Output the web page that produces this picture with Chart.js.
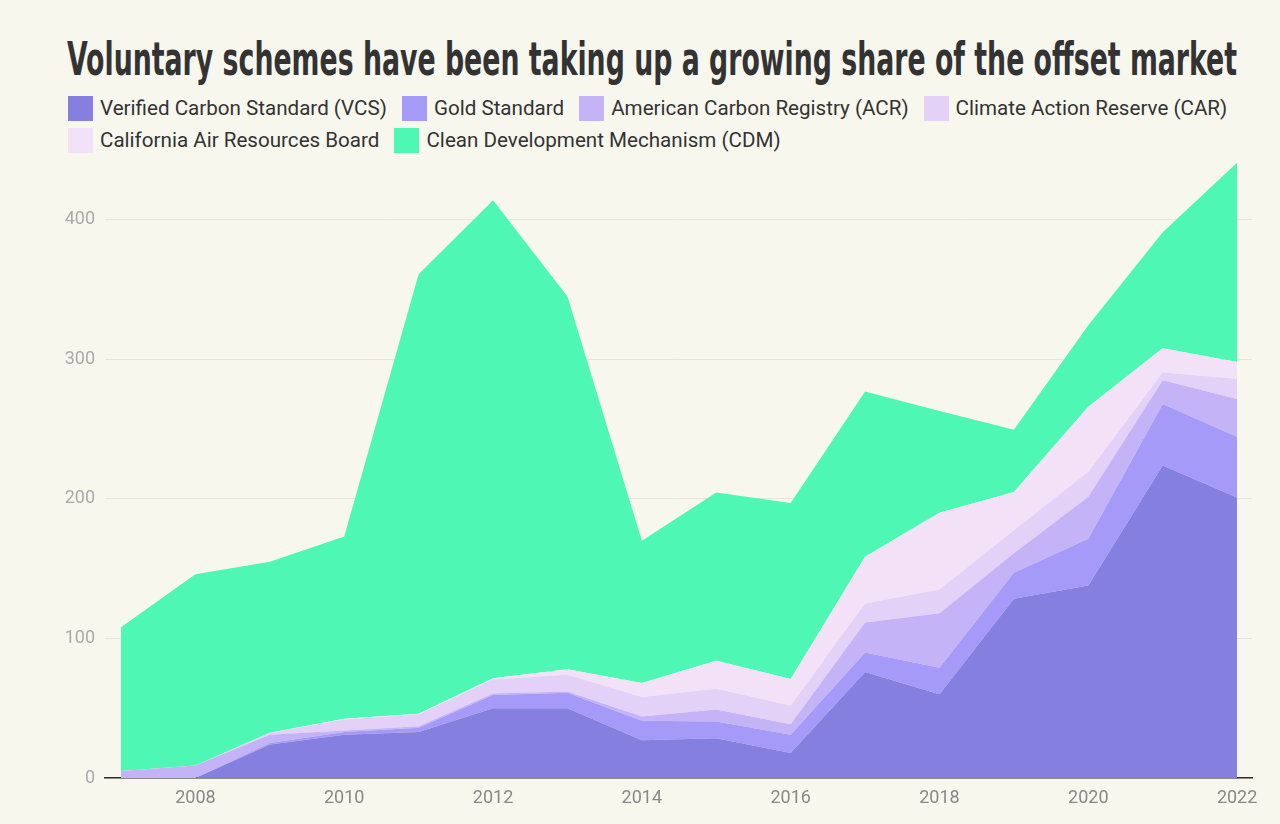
<!DOCTYPE html>
<html>
<head>
<meta charset="utf-8">
<script src="https://cdn.jsdelivr.net/npm/chart.js@4.4.1/dist/chart.umd.min.js"></script>
<style>
  html, body { margin: 0; padding: 0; background: #f8f7ee; }
  #wrap { position: relative; width: 1280px; height: 824px; overflow: hidden; }
  #title {
    position: absolute; left: 67px; top: 36px; white-space: nowrap;
    font-family: "Liberation Sans Narrow", "DejaVu Sans Condensed", sans-serif;
    font-weight: 700; font-size: 46px; line-height: 1; color: #333;
    transform-origin: left top;
  }
  #legend {
    position: absolute; left: 68px; top: 92px; width: 1210px;
    font-family: Roboto, sans-serif; font-size: 20.6px; color: #333;
  }
  .row { display: flex; height: 32px; align-items: center; }
  .item { display: flex; align-items: center; margin-right: 15px; }
  .box { width: 25px; height: 25px; margin-right: 7px; }
  canvas { position: absolute; left: 0; top: 0; }
</style>
</head>
<body>
<div id="wrap">
  <div id="title">Voluntary schemes have been taking up a growing share of the offset market</div>
  <div id="legend"></div>
  <canvas id="areaChart" width="1280" height="824"></canvas>
</div>
<script>
/* eslint-disable no-undef */
// datos (millones de creditos por año)
const years = [2007, 2008, 2009, 2010, 2011, 2012, 2013, 2014, 2015, 2016, 2017, 2018, 2019, 2020, 2021, 2022]
const vcs = [0, 0, 24, 31, 33, 50, 50, 27, 28.5, 18, 76, 60, 128.5, 138, 224, 201]
const gold = [0, 0, 1, 2, 3, 9.5, 11, 14, 12, 13, 14, 19, 18.5, 33.5, 44, 43.5]
const acr = [5, 9, 6, 1, 1, 1, 1, 3, 8.5, 7.5, 21.5, 39, 14, 30, 17, 27]
const car = [0, 0, 1.5, 8, 8.5, 10, 12, 14, 15, 13.5, 13.5, 17, 16.5, 18, 5.5, 14.5]
const carb = [0, 0, 0, 0.5, 0.5, 1, 4, 10, 20, 19, 33.5, 55, 27.5, 46.5, 17.5, 12]
const cdm = [103, 137, 122.5, 130.5, 315, 342.5, 267, 102, 120.5, 126, 118.5, 73, 44.5, 58.5, 83, 143]

const seriesNames = [
  'Verified Carbon Standard (VCS)',
  'Gold Standard',
  'American Carbon Registry (ACR)',
  'Climate Action Reserve (CAR)',
  'California Air Resources Board',
  'Clean Development Mechanism (CDM)'
]
const seriesColors = ['#857fe0', '#a59af7', '#c4b3f7', '#e3d1f7', '#f3e1f7', '#4ff7b5']
const xTickYears = [2008, 2010, 2012, 2014, 2016, 2018, 2020, 2022]
const yTickValues = [0, 100, 200, 300, 400]

// titulo ajustado al ancho del grafico
const title = document.getElementById('title')
title.style.transform = `scaleX(${1170 / title.scrollWidth})`

// leyenda en html (dos filas como en el original)
const legend = document.getElementById('legend')
const rows = [[0, 1, 2, 3], [4, 5]]
rows.forEach((idxs) => {
  const row = document.createElement('div')
  row.className = 'row'
  idxs.forEach((i) => {
    const item = document.createElement('div')
    item.className = 'item'
    item.innerHTML = `<span class="box" style="background:${seriesColors[i]}"></span><span>${seriesNames[i]}</span>`
    row.appendChild(item)
  })
  legend.appendChild(row)
})

const allSeries = [vcs, gold, acr, car, carb, cdm]
const datasets = allSeries.map((vals, i) => ({
  label: seriesNames[i],
  data: years.map((yr, j) => ({ x: yr, y: vals[j] })),
  backgroundColor: seriesColors[i],
  borderWidth: 0,
  pointRadius: 0,
  tension: 0,
  fill: i === 0 ? 'origin' : '-1'
}))

const ctx = document.getElementById('areaChart').getContext('2d')
const myChart = new Chart(ctx, {
  type: 'line',
  data: { datasets },
  options: {
    responsive: false,
    animation: false,
    layout: { padding: { left: 0, top: 150, right: 28, bottom: 0 } },
    plugins: { legend: { display: false }, tooltip: { enabled: false } },
    scales: {
      x: {
        type: 'linear',
        min: 2006.785,
        max: 2022.2,
        afterBuildTicks: (scale) => { scale.ticks = xTickYears.map(v => ({ value: v })) },
        afterFit: (scale) => { scale.height = 46 },
        grid: { display: false, drawTicks: false },
        border: { display: true, color: '#2e2e2e', width: 1.5 },
        ticks: {
          padding: 10,
          color: '#888',
          font: { family: 'Roboto', size: 18 },
          callback: (v) => String(v)
        }
      },
      y: {
        stacked: true,
        min: 0,
        max: 450,
        afterBuildTicks: (scale) => { scale.ticks = yTickValues.map(v => ({ value: v })) },
        afterFit: (scale) => { scale.width = 105 },
        grid: { color: '#e6e4dc', lineWidth: 1, drawTicks: false },
        border: { display: false },
        ticks: {
          padding: 10,
          color: '#aaa',
          font: { family: 'Roboto', size: 18 },
          callback: (v) => String(v)
        }
      }
    }
  }
})
</script>
</body>
</html>
